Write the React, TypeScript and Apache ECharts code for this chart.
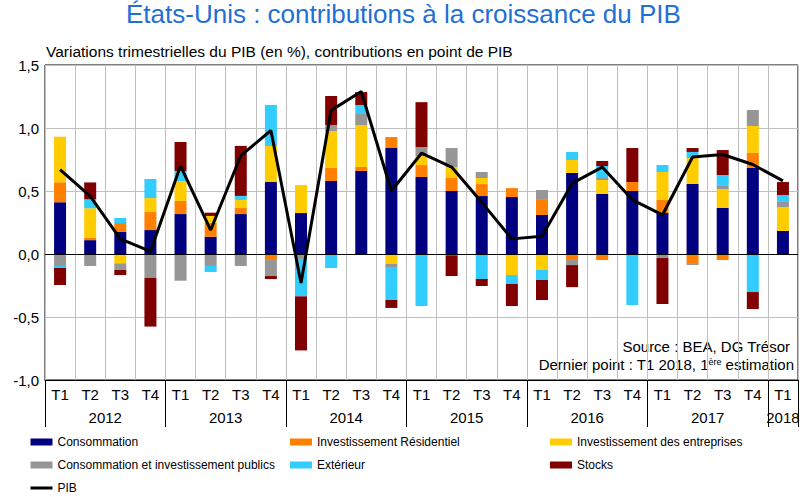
import React, { useEffect, useRef } from "react";
import * as echarts from "echarts";

const quarters = ["T1","T2","T3","T4","T1","T2","T3","T4","T1","T2","T3","T4","T1","T2","T3","T4","T1","T2","T3","T4","T1","T2","T3","T4","T1"];
const years = ["2012", "2013", "2014", "2015", "2016", "2017", "2018"];

const consommation = [0.41, 0.11, 0.175, 0.19, 0.317, 0.137, 0.317, 0.571, 0.325, 0.579, 0.659, 0.841, 0.611, 0.5, 0.46, 0.452, 0.31, 0.643, 0.476, 0.5, 0.325, 0.556, 0.365, 0.683, 0.183];
const residentiel = [0.16, 0.02, 0.071, 0.143, 0.104, 0.112, 0.048, -0.048, -0.016, 0.104, 0.032, 0.087, 0.095, 0.103, 0.095, 0.071, 0.119, -0.048, -0.048, 0.071, 0.104, -0.079, -0.048, 0.119, 0];
const entreprises = [0.36, 0.233, -0.074, 0.111, 0.158, 0.053, 0.064, 0.286, 0.222, 0.293, 0.333, -0.079, 0.071, 0.087, 0.048, -0.167, -0.127, 0.103, 0.111, 0, 0.222, 0.206, 0.151, 0.214, 0.19];
const publics = [-0.095, -0.095, -0.053, -0.19, -0.212, -0.095, -0.095, -0.127, -0.03, 0.048, 0.087, -0.024, 0.071, 0.151, 0.048, 0, 0.079, -0.04, 0.016, 0, -0.032, -0.008, 0.024, 0.127, 0.04];
const exterieur = [-0.016, 0.071, 0.04, 0.151, 0.08, -0.048, 0.032, 0.326, -0.29, -0.111, 0.071, -0.262, -0.413, -0.01, -0.198, -0.071, -0.079, 0.064, 0.095, -0.405, 0.055, 0.048, 0.087, -0.302, 0.055];
const stocks = [-0.135, 0.134, -0.04, -0.386, 0.23, 0.026, 0.397, -0.024, -0.429, 0.23, 0.103, -0.063, 0.357, -0.165, -0.056, -0.175, -0.159, -0.175, 0.04, 0.27, -0.365, 0.031, 0.198, -0.135, 0.103];
const pib = [0.67, 0.46, 0.12, 0.02, 0.70, 0.19, 0.78, 0.98, -0.23, 1.14, 1.29, 0.50, 0.80, 0.69, 0.41, 0.12, 0.14, 0.56, 0.69, 0.43, 0.31, 0.77, 0.79, 0.71, 0.58];

const FONT = "'Liberation Sans', Arial, sans-serif";

export default function App() {
  const ref = useRef<HTMLDivElement>(null);
  useEffect(() => {
    document.body.style.margin = "0";
    if (!ref.current) return;
    const chart = echarts.init(ref.current, null, { renderer: "svg" });

    // year axis: half-quarter points, year label centred on its quarters
    const yearAxis: string[] = new Array(51).fill("");
    years.forEach((y, k) => {
      const nq = k < years.length - 1 ? 4 : 1;
      yearAxis[k * 8 + nq] = y;
    });

    const barSeries = (name: string, data: number[], color: string, extra: any = {}) => ({
      name,
      type: "bar",
      stack: "total",
      data,
      barWidth: 12,
      itemStyle: { color },
      xAxisIndex: 0,
      yAxisIndex: 0,
      ...extra,
    });

    const legendText = { fontFamily: FONT, fontSize: 12, color: "#000", lineHeight: 14 };
    const legendCommon = {
      orient: "vertical",
      itemWidth: 22,
      itemHeight: 7,
      itemGap: 9,
      top: 435,
      textStyle: legendText,
      padding: 0,
    };

    chart.setOption({
      animation: false,
      textStyle: { fontFamily: FONT },
      title: [
        {
          text: "États-Unis : contributions à la croissance du PIB",
          left: 126,
          top: 1,
          padding: 0,
          textStyle: { fontFamily: FONT, fontSize: 26, fontWeight: "normal", color: "#1f6fd6" },
        },
        {
          text: "Variations trimestrielles du PIB (en %), contributions en point de PIB",
          left: 46,
          top: 43,
          padding: 0,
          textStyle: { fontFamily: FONT, fontSize: 15.5, fontWeight: "normal", color: "#000" },
        },
      ],
      grid: {
        left: 45,
        right: 6,
        top: 65,
        bottom: 117,
        show: true,
        borderColor: "#000",
        borderWidth: 1,
        backgroundColor: "transparent",
      },
      legend: [
        {
          ...legendCommon,
          left: 29,
          data: [
            { name: "Consommation", icon: "rect" },
            { name: "Consommation et investissement publics", icon: "rect" },
            { name: "PIB", itemStyle: { opacity: 0 }, lineStyle: { color: "#000", width: 3 } },
          ],
        },
        { ...legendCommon, icon: "rect", left: 290, data: ["Investissement Résidentiel", "Extérieur"] },
        { ...legendCommon, icon: "rect", left: 550, data: ["Investissement des entreprises", "Stocks"] },
      ],
      xAxis: [
        {
          type: "category",
          data: quarters,
          position: "bottom",
          axisLine: { show: true, onZero: false, lineStyle: { color: "#000", width: 1 } },
          axisTick: { show: false },
          axisLabel: { interval: 0, margin: 7, fontSize: 15, color: "#000", fontFamily: FONT },
          splitLine: { show: true, interval: 0, lineStyle: { color: "#c0c0c0", width: 1 } },
        },
        {
          type: "category",
          data: yearAxis,
          position: "bottom",
          boundaryGap: false,
          axisLine: { show: false, onZero: false },
          axisTick: {
            show: true,
            length: 47,
            interval: (i: number) => i % 8 === 0 || i === 50,
            lineStyle: { color: "#000", width: 1 },
          },
          axisLabel: { interval: 0, margin: 30, fontSize: 15, color: "#000", fontFamily: FONT },
          splitLine: { show: false },
        },
      ],
      yAxis: {
        type: "value",
        min: -1,
        max: 1.5,
        interval: 0.5,
        axisLine: { show: false },
        axisTick: { show: false },
        axisLabel: {
          fontSize: 15,
          color: "#000",
          fontFamily: FONT,
          margin: 6,
          formatter: (v: number) => v.toFixed(1).replace(".", ","),
        },
        splitLine: { show: true, lineStyle: { color: "#c0c0c0", width: 1 } },
      },
      series: [
        barSeries("Consommation", consommation, "#000080", {
          markLine: {
            silent: true,
            symbol: ["none", "none"],
            label: { show: false },
            lineStyle: { color: "#000", type: "solid", width: 1 },
            data: [{ yAxis: 0 }],
          },
        }),
        barSeries("Investissement Résidentiel", residentiel, "#ff7f00"),
        barSeries("Investissement des entreprises", entreprises, "#ffcc00"),
        barSeries("Consommation et investissement publics", publics, "#969696"),
        barSeries("Extérieur", exterieur, "#33ccff"),
        barSeries("Stocks", stocks, "#800000"),
        {
          name: "PIB",
          type: "line",
          data: pib,
          xAxisIndex: 0,
          yAxisIndex: 0,
          symbol: "none",
          lineStyle: { color: "#000", width: 3 },
          itemStyle: { color: "#000" },
          z: 5,
        },
      ],
      graphic: [
        {
          type: "text",
          right: 14,
          top: 339,
          style: {
            text: "Source : BEA, DG Trésor",
            font: `15px ${FONT}`,
            fill: "#000",
            textAlign: "right",
          },
        },
        {
          type: "text",
          right: 10,
          top: 357,
          style: {
            text: "Dernier point : T1 2018, 1{sup|ère} estimation",
            font: `15px ${FONT}`,
            fill: "#000",
            textAlign: "right",
            rich: {
              sup: { fontSize: 9, fontFamily: FONT, fill: "#000", verticalAlign: "top", padding: [0, 0, 6, 0] },
            },
          },
        },
      ],
    });
    return () => chart.dispose();
  }, []);
  return <div ref={ref} style={{ width: 804, height: 497 }} />;
}
